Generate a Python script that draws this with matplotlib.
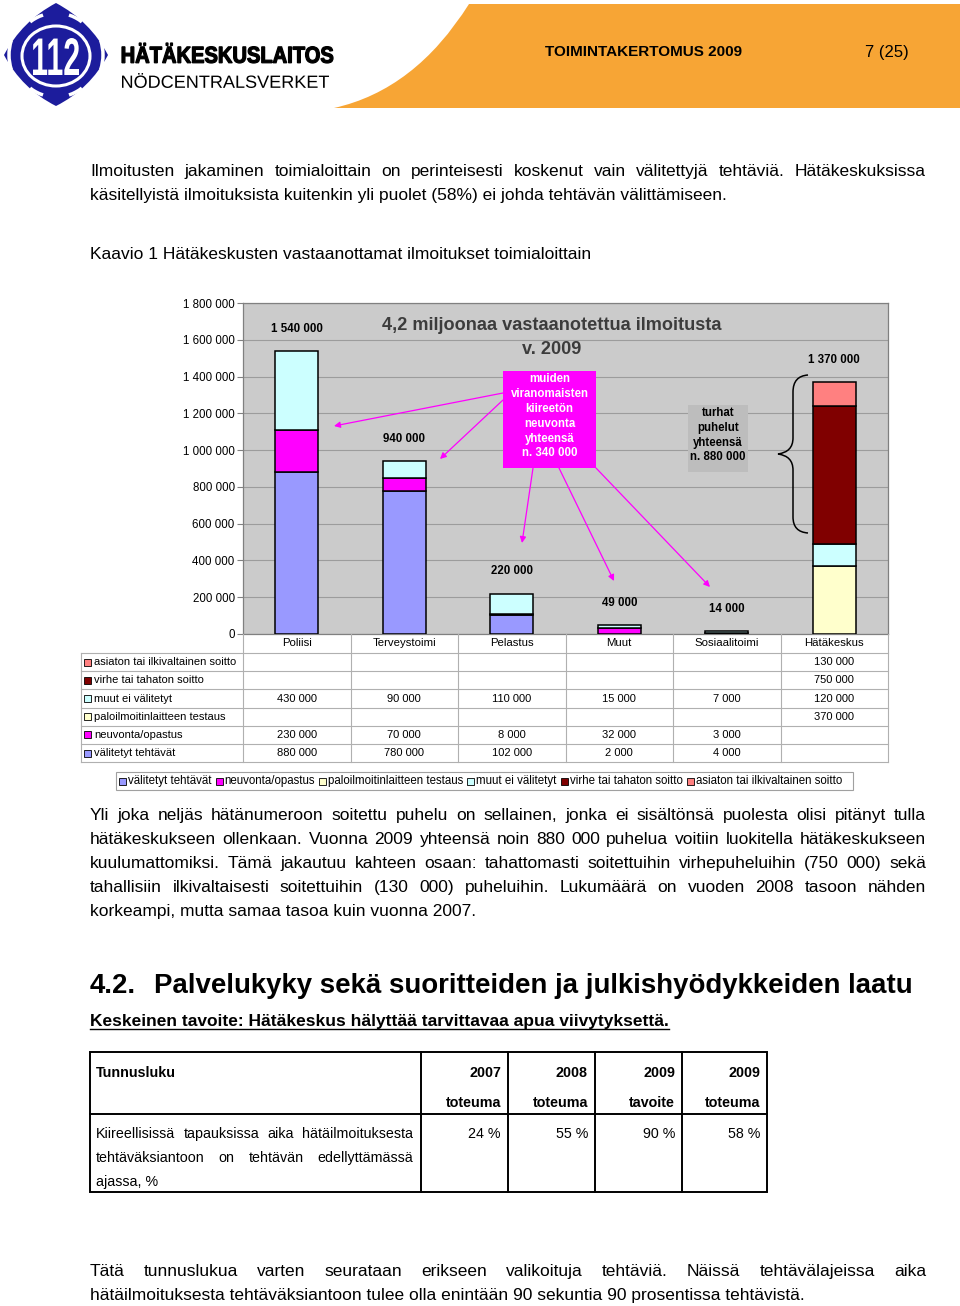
import matplotlib
matplotlib.use("Agg")
import matplotlib.pyplot as plt
import numpy as np
from matplotlib.patches import Rectangle, PathPatch, Ellipse, Arc, FancyArrowPatch
from matplotlib.path import Path
from matplotlib.textpath import TextPath
from matplotlib.font_manager import FontProperties
from matplotlib.transforms import Affine2D

plt.rcParams["font.family"] = ["Liberation Sans", "DejaVu Sans"]

# chart data
CATEGORIES = ["Poliisi", "Terveystoimi", "Pelastus", "Muut", "Sosiaalitoimi", "Hätäkeskus"]
SERIES_NAMES = [
    "välitetyt tehtävät",
    "neuvonta/opastus",
    "paloilmoitinlaitteen testaus",
    "muut ei välitetyt",
    "virhe tai tahaton soitto",
    "asiaton tai ilkivaltainen soitto",
]
SERIES_COLORS = ["#9999ff", "#ff00ff", "#ffffcc", "#ccffff", "#800000", "#ff8080"]
VALITETYT = [880000, 780000, 102000, 2000, 4000, None]
NEUVONTA = [230000, 70000, 8000, 32000, 3000, None]
PALOILMOITIN = [None, None, None, None, None, 370000]
MUUT_EI = [430000, 90000, 110000, 15000, 7000, 120000]
VIRHE = [None, None, None, None, None, 750000]
ASIATON = [None, None, None, None, None, 130000]
SERIES = [VALITETYT, NEUVONTA, PALOILMOITIN, MUUT_EI, VIRHE, ASIATON]
Y_TICKS = list(range(0, 1800001, 200000))

# key figure table
KPI_YEARS = ["2007", "2008", "2009", "2009"]
KPI_KINDS = ["toteuma", "toteuma", "tavoite", "toteuma"]
KPI_VALUES = ["24 %", "55 %", "90 %", "58 %"]

W, H = 960, 1306
BODY = 12.5


def fmt(v):
    return f"{v:,}".replace(",", " ")


fig = plt.figure(figsize=(W / 100, H / 100), dpi=100)
fig.patch.set_facecolor("white")
ax = fig.add_axes([243 / W, 1 - 634 / H, 645 / W, 331 / H])
page = fig.add_axes([0, 0, 1, 1], facecolor="none")
page.set_xlim(0, W)
page.set_ylim(H, 0)
page.axis("off")
renderer = fig.canvas.get_renderer()


def width_of(t):
    return t.get_window_extent(renderer).width


def justified(line, x0, x1, y, size=BODY, weight="normal"):
    words = line.split()
    objs = [page.text(0, y, w, fontsize=size, fontweight=weight, va="baseline") for w in words]
    widths = [width_of(o) for o in objs]
    gap = (x1 - x0 - sum(widths)) / max(len(words) - 1, 1)
    x = x0
    for o, w in zip(objs, widths):
        o.set_x(x)
        x += w + gap


def left(line, x, y, size=BODY, weight="normal", **kw):
    return page.text(x, y, line, fontsize=size, fontweight=weight, va="baseline", **kw)


def path_text(s, x0, x1, top, base, color, weight="bold", stroke=0):
    tp = TextPath((0, 0), s, size=100, prop=FontProperties(family="Liberation Sans", weight=weight))
    ext = tp.get_extents()
    sx = (x1 - x0) / ext.width
    sy = (base - top) / ext.height
    tr = Affine2D().translate(-ext.x0, -ext.y0).scale(sx, -sy).translate(x0, base)
    page.add_patch(PathPatch(tr.transform_path(tp), fc=color, ec=color if stroke else "none",
                             lw=stroke))


# ---------------- header ----------------
orange = Path(
    [(469, 4), (960, 4), (960, 108), (334, 108), (415, 90), (469, 4)],
    [Path.MOVETO, Path.LINETO, Path.LINETO, Path.LINETO, Path.CURVE3, Path.CURVE3],
)
page.add_patch(PathPatch(orange, fc="#f7a535", ec="none"))

blue = "#1c1c9c"
logo = Path(
    [(56, 3), (90, 21), (108, 55), (90, 89), (56, 106), (22, 89), (4, 55), (22, 21), (56, 3)],
    [Path.MOVETO, Path.CURVE3, Path.CURVE3, Path.CURVE3, Path.CURVE3,
     Path.CURVE3, Path.CURVE3, Path.CURVE3, Path.CURVE3],
)
page.add_patch(PathPatch(logo, fc=blue, ec="none"))
page.add_patch(Ellipse((56, 56), 68, 60, fill=False, ec="white", lw=2.2))
for r, t1, t2 in [(47, 162, 198), (47, -18, 18), (42, 52, 72), (42, 108, 128),
                  (42, 232, 252), (42, 288, 308)]:
    page.add_patch(Arc((56, 55), 2 * r, 2 * r, theta1=t1, theta2=t2, ec="white", lw=2.5))
path_text("112", 33, 79, 38, 75, "white")
path_text("HÄTÄKESKUSLAITOS", 122, 333, 43, 63, "black", stroke=0.9)
path_text("NÖDCENTRALSVERKET", 122, 329, 73, 88, "black", weight="normal")

page.text(545, 52, "TOIMINTAKERTOMUS 2009", fontsize=11, fontweight="bold", va="center")
page.text(865, 52, "7 (25)", fontsize=12, va="center")

# ---------------- text before chart ----------------
justified("Ilmoitusten jakaminen toimialoittain on perinteisesti koskenut vain välitettyjä tehtäviä. Hätäkeskuksissa",
          90, 926, 176)
left("käsitellyistä ilmoituksista kuitenkin yli puolet (58%) ei johda tehtävän välittämiseen.", 90, 200)
left("Kaavio 1 Hätäkeskusten vastaanottamat ilmoitukset toimialoittain", 90, 259)

# ---------------- chart ----------------
xpos = np.arange(len(CATEGORIES))
bottom = np.zeros(len(CATEGORIES))
for vals, color in zip(SERIES, SERIES_COLORS):
    v = np.array([0 if a is None else a for a in vals], dtype=float)
    m = v > 0
    ax.bar(xpos[m], v[m], 0.4, bottom=bottom[m], color=color, edgecolor="black",
           linewidth=1.1, zorder=3)
    bottom += v

for i, total in enumerate(bottom):
    ax.annotate(fmt(int(total)), (i, total), xytext=(0, 16), textcoords="offset points",
                ha="center", va="center", fontsize=8.3, fontweight="bold")

ax.set_facecolor("#cbcbcb")
ax.set_xlim(-0.5, len(CATEGORIES) - 0.5)
ax.set_ylim(0, 1800000)
ax.set_yticks(Y_TICKS)
ax.set_yticklabels([fmt(v) for v in Y_TICKS], fontsize=8.3)
ax.tick_params(axis="y", length=4, width=0.8, color="#808080", pad=2)
ax.set_xticks([])
ax.grid(axis="y", color="#9c9c9c", lw=0.8, zorder=0)
ax.set_axisbelow(True)
for s in ax.spines.values():
    s.set_color("#808080")
    s.set_linewidth(0.9)


def to_page(xd, yd):
    px, py = ax.transData.transform((xd, yd))
    return px, H - py


# title and call-outs
page.text(552, 326, "4,2 miljoonaa vastaanotettua ilmoitusta", ha="center", va="center",
          fontsize=13.1, fontweight="bold", color="#3c3c3c")
page.text(552, 349, "v. 2009", ha="center", va="center", fontsize=13.1, fontweight="bold",
          color="#3c3c3c")

page.add_patch(Rectangle((503, 371), 93, 97, fc="#ff00ff", ec="none"))
for k, s in enumerate(["muiden", "viranomaisten", "kiireetön", "neuvonta", "yhteensä", "n. 340 000"]):
    page.text(549.5, 379.5 + k * 14.8, s, ha="center", va="center", fontsize=8.3,
              fontweight="bold", color="white")
for (x0, y0), (x1, y1) in [((503, 393), (334, 426)), ((503, 400), (440, 459)),
                           ((533, 468), (522, 543)), ((559, 468), (614, 581)),
                           ((596, 468), (710, 587))]:
    page.add_patch(FancyArrowPatch((x0, y0), (x1, y1), arrowstyle="-|>", mutation_scale=9,
                                   color="#ff00ff", lw=0.9, shrinkA=0, shrinkB=0))

page.add_patch(Rectangle((688, 405), 60, 67, fc="#bdbdbd", ec="none"))
for k, s in enumerate(["turhat", "puhelut", "yhteensä", "n. 880 000"]):
    page.text(718, 413 + k * 14.8, s, ha="center", va="center", fontsize=8.3, fontweight="bold")

brace = Path(
    [(808, 375), (793, 376), (793, 392), (793, 438), (793, 452), (778, 454),
     (793, 456), (793, 470), (793, 517), (793, 532), (808, 533)],
    [Path.MOVETO, Path.CURVE3, Path.CURVE3, Path.LINETO, Path.CURVE3, Path.CURVE3,
     Path.CURVE3, Path.CURVE3, Path.LINETO, Path.CURVE3, Path.CURVE3],
)
page.add_patch(PathPatch(brace, fc="none", ec="black", lw=1.1))

# ---------------- data table ----------------
zero_y = to_page(0, 0)[1]
bounds = [to_page(i - 0.5, 0)[0] for i in range(len(CATEGORIES) + 1)]
head_bot = zero_y + 19
row_h = 18.2
n_rows = len(SERIES)
table_bot = head_bot + n_rows * row_h
grid_c = "#b0b0b0"
for xb in bounds:
    page.plot([xb, xb], [zero_y, table_bot], color=grid_c, lw=0.8)
page.plot([81, 81], [head_bot, table_bot], color=grid_c, lw=0.8)
for k in range(n_rows + 1):
    yy = head_bot + k * row_h
    page.plot([81, bounds[-1]], [yy, yy], color=grid_c, lw=0.8)

for i, name in enumerate(CATEGORIES):
    page.text(to_page(i, 0)[0], zero_y + 9.5, name, ha="center", va="center", fontsize=8.2)

rows = list(zip(SERIES_NAMES, SERIES, SERIES_COLORS))[::-1]
for k, (name, vals, color) in enumerate(rows):
    yc = head_bot + (k + 0.5) * row_h
    page.add_patch(Rectangle((84, yc - 3.5), 7, 7, fc=color, ec="black", lw=0.6))
    page.text(94, yc, name, va="center", fontsize=8)
    for i, v in enumerate(vals):
        if v is not None:
            page.text(to_page(i, 0)[0], yc, fmt(v), ha="center", va="center", fontsize=8)

# legend under the table
page.add_patch(Rectangle((116, 772), 737, 18, fc="white", ec="#a0a0a0", lw=0.8))
lx = 119
for name, color in zip(SERIES_NAMES, SERIES_COLORS):
    page.add_patch(Rectangle((lx, 777.5), 7, 7, fc=color, ec="black", lw=0.6))
    t = page.text(lx + 9, 781, name, va="center", fontsize=8.3)
    lx += 9 + width_of(t) + 4

# ---------------- text after chart ----------------
justified("Yli joka neljäs hätänumeroon soitettu puhelu on sellainen, jonka ei sisältönsä puolesta olisi pitänyt tulla",
          90, 926, 820)
justified("hätäkeskukseen ollenkaan. Vuonna 2009 yhteensä noin 880 000 puhelua voitiin luokitella hätäkeskukseen",
          90, 926, 844)
justified("kuulumattomiksi. Tämä jakautuu kahteen osaan: tahattomasti soitettuihin virhepuheluihin (750 000) sekä",
          90, 926, 868)
justified("tahallisiin ilkivaltaisesti soitettuihin (130 000) puheluihin. Lukumäärä on vuoden 2008 tasoon nähden",
          90, 926, 892)
left("korkeampi, mutta samaa tasoa kuin vuonna 2007.", 90, 916)

left("4.2.", 90, 993, size=19.9, weight="bold")
left("Palvelukyky sekä suoritteiden ja julkishyödykkeiden laatu", 154, 993, size=19.9, weight="bold")
ul = left("Keskeinen tavoite: Hätäkeskus hälyttää tarvittavaa apua viivytyksettä.", 90, 1026,
          size=12.5, weight="bold")
page.plot([90, 90 + width_of(ul)], [1028.5, 1028.5], color="black", lw=1)

# ---------------- key figure table ----------------
col_r = [508, 595, 682, 767]
page.add_patch(Rectangle((90, 1052), 677, 140, fc="none", ec="black", lw=1.4))
for xr in [421] + col_r[:-1]:
    page.plot([xr, xr], [1052, 1192], color="black", lw=1.4)
page.plot([90, 767], [1114, 1114], color="black", lw=1.4)
left("Tunnusluku", 96, 1077, size=10.3, weight="bold")
for xr, yr, kind, val in zip(col_r, KPI_YEARS, KPI_KINDS, KPI_VALUES):
    left(yr, xr - 7, 1077, size=10.3, weight="bold", ha="right")
    left(kind, xr - 7, 1107, size=10.3, weight="bold", ha="right")
    left(val, xr - 7, 1138, size=10.3, ha="right")
justified("Kiireellisissä tapauksissa aika hätäilmoituksesta", 96, 413, 1138, size=10.3)
justified("tehtäväksiantoon on tehtävän edellyttämässä", 96, 413, 1162, size=10.3)
left("ajassa, %", 96, 1186, size=10.3)

justified("Tätä tunnuslukua varten seurataan erikseen valikoituja tehtäviä. Näissä tehtävälajeissa aika",
          90, 926, 1276)
left("hätäilmoituksesta tehtäväksiantoon tulee olla enintään 90 sekuntia 90 prosentissa tehtävistä.", 90, 1300)

fig.savefig("out.png", dpi=100)
